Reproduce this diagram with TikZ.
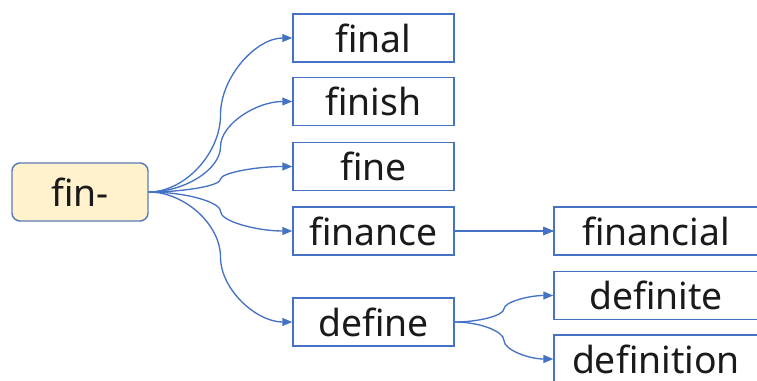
\documentclass[tikz,border=0pt]{standalone}
\usepackage{fontspec}
\setmainfont{Noto Sans}
\usetikzlibrary{arrows.meta,calc,positioning}
\definecolor{boxblue}{HTML}{4472C4}
\definecolor{rootedge}{HTML}{5B7BB4}
\definecolor{rootfill}{HTML}{FFF2CC}
\definecolor{wordtext}{HTML}{1A1A1A}

% curved connector from the east side of #1 to the west side of #2
\newcommand{\curvelink}[2]{%
    \coordinate (s) at (#1.east);
    \coordinate (t) at (#2.west);
    \coordinate (m) at ($(s)!0.5!(t)$);
    \draw[link] (s) .. controls ($(s)!0.5!(s-|m)$) and ($(s-|m)!0.5!(m)$) .. (m)
        .. controls ($(m)!0.5!(t-|m)$) and ($(t-|m)!0.5!(t)$) .. (t);}

\begin{document}
\begin{tikzpicture}[x=0.75pt,y=-0.75pt]
        \tikzset{word/.style={draw=boxblue, line width=1.1pt, fill=white, text=wordtext,
                     minimum width=120.75pt, minimum height=36pt, inner sep=0pt,
                     font=\fontsize{28}{32}\selectfont},
                 wide/.style={word, minimum width=153pt},
                 root/.style={draw=rootedge, line width=1.1pt, fill=rootfill, rounded corners=6pt,
                     text=wordtext, minimum width=102pt, minimum height=43.5pt, inner sep=0pt,
                     font=\fontsize{28}{32}\selectfont},
                 link/.style={boxblue, line width=1pt, -{Triangle[length=7.5pt,width=6pt]}}}
        \clip (0,0) rectangle (757,381);

        % Root
        \node (fin)[root] at (80,192) {fin-};

        % First level words
        \node (final)[word] at (373.5,38) {final};
        \node (finish)[word] at (373.5,101.5) {finish};
        \node (fine)[word] at (373.5,166.5) {fine};
        \node (finance)[word] at (373.5,231) {finance};
        \node (define)[word] at (373.5,322) {define};

        % Second level words
        \node (financial)[wide] at (656,231) {financial};
        \node (definite)[wide] at (656,295.5) {definite};
        \node (definition)[wide] at (656,359) {definition};

        % Connectors
        \foreach \w in {final,finish,fine,finance,define}
            \curvelink{fin}{\w}
        \draw[link] (finance.east) -- (financial.west);
        \curvelink{define}{definite}
        \curvelink{define}{definition}
    \end{tikzpicture}
\end{document}
